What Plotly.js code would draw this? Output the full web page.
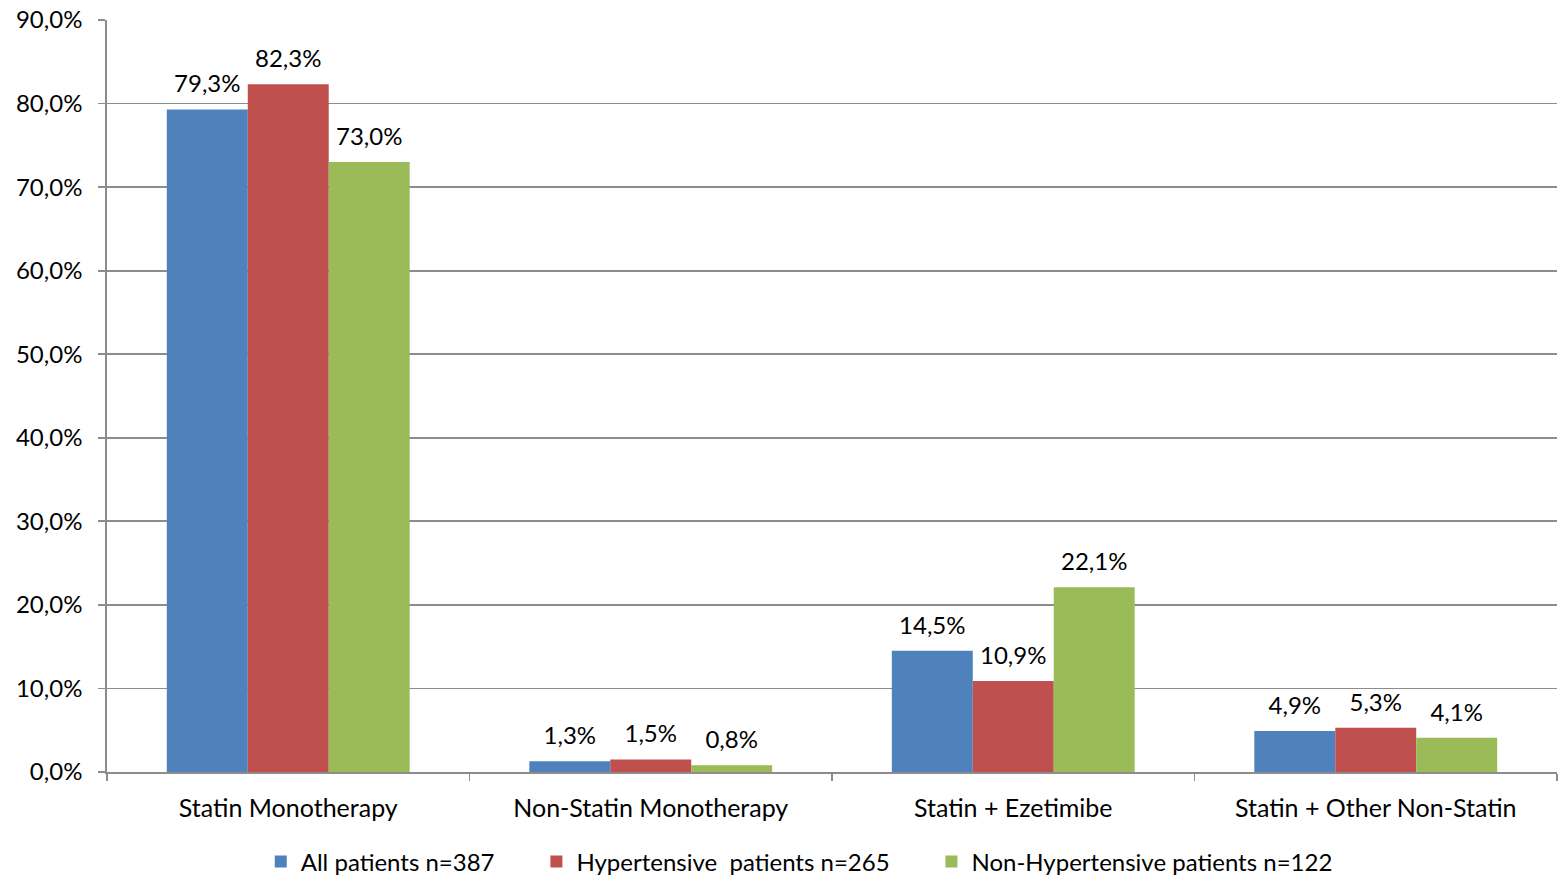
<!DOCTYPE html>
<html>
<head>
<meta charset="utf-8">
<script src="https://cdn.plot.ly/plotly-3.0.1.min.js"></script>
<style>html,body{margin:0;padding:0;background:#fff;}#chart{width:1558px;height:876px;}</style>
</head>
<body>
<div id="chart"></div>
<script>
const categories = ["Statin Monotherapy", "Non-Statin Monotherapy", "Statin + Ezetimibe", "Statin + Other Non-Statin"];
const seriesNames = ["All patients n=387", "Hypertensive\u00a0 patients n=265", "Non-Hypertensive patients n=122"];
const allPatients = [79.3, 1.3, 14.5, 4.9];
const hypertensive = [82.3, 1.5, 10.9, 5.3];
const nonHypertensive = [73.0, 0.8, 22.1, 4.1];
const yTickValues = [0, 10, 20, 30, 40, 50, 60, 70, 80, 90];
const yTickLabels = ["0,0%", "10,0%", "20,0%", "30,0%", "40,0%", "50,0%", "60,0%", "70,0%", "80,0%", "90,0%"];

const colors = ["#4F81BD", "#C0504D", "#9BBB59"];
const seriesValues = [allPatients, hypertensive, nonHypertensive];
const fontFam = "Lato, 'Open Sans', sans-serif";
const FS = 24;
const legendPad = "\u00a0".repeat(6);

const barTraces = seriesValues.map((vals, i) => ({
  type: "bar",
  name: seriesNames[i] + (i < 2 ? legendPad : ""),
  x: categories,
  y: vals,
  marker: {color: colors[i], line: {width: 0}},
  hoverinfo: "x+y"
}));

const labelTraces = seriesValues.map((vals, i) => ({
  type: "scatter",
  mode: "markers+text",
  x: categories,
  y: vals,
  marker: {size: 16, opacity: 0, color: colors[i]},
  text: vals.map(v => v.toFixed(1).replace(".", ",") + "%"),
  textposition: "top center",
  textfont: {family: fontFam, size: FS, color: "#000"},
  showlegend: false,
  cliponaxis: false,
  hoverinfo: "skip"
}));

const layout = {
  width: 1558, height: 876,
  margin: {l: 107, r: 1, t: 20, b: 104},
  paper_bgcolor: "#fff", plot_bgcolor: "#fff",
  font: {family: fontFam, size: FS, color: "#000"},
  barmode: "group",
  bargap: 0.33,
  bargroupgap: 0,
  scattermode: "group",
  scattergap: 0.33,
  showlegend: true,
  legend: {orientation: "h", xref: "container", yref: "container", x: 0.513, xanchor: "center",
           y: 0.016, yanchor: "middle",
           font: {family: fontFam, size: FS, color: "#000"}, itemwidth: 30, tracegroupgap: 0},
  xaxis: {
    type: "category",
    showgrid: false,
    showline: true, linecolor: "#8c8c8c", linewidth: 1.8,
    ticks: "outside", tickson: "boundaries", ticklen: 7, tickcolor: "#8c8c8c", tickwidth: 1.8,
    ticklabelstandoff: 13,
    tickfont: {family: fontFam, size: 25, color: "#000"}
  },
  yaxis: {
    range: [0, 90],
    tickmode: "array",
    tickvals: yTickValues,
    ticktext: yTickLabels,
    showgrid: true, gridcolor: "#8c8c8c", gridwidth: 1.8,
    zeroline: false,
    showline: true, linecolor: "#8c8c8c", linewidth: 1.8,
    ticks: "outside", ticklen: 7, tickcolor: "#8c8c8c", tickwidth: 1.8,
    ticklabelstandoff: 11,
    tickfont: {family: fontFam, size: FS, color: "#000"}
  }
};

Plotly.newPlot("chart", barTraces.concat(labelTraces), layout, {displayModeBar: false, staticPlot: true});
</script>
</body>
</html>
